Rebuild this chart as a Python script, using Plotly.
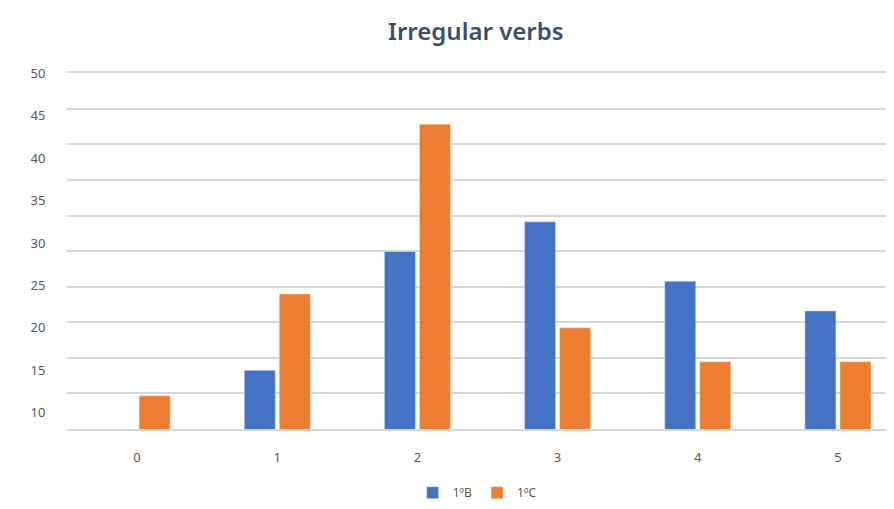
import plotly.graph_objects as go

categories = ["0", "1", "2", "3", "4", "5"]
series_b = [None, 15, 29, 32.5, 25.5, 22]
series_c = [12, 24, 44, 20, 16, 16]
y_tick_vals = [10, 15, 20, 25, 30, 35, 40, 45, 50]
names = ["1ºB", "1ºC"]

fig = go.Figure()
fig.add_trace(go.Scatter(x=categories, y=[None] * len(categories), yaxis="y2",
                         showlegend=False, hoverinfo="skip"))
fig.add_trace(go.Bar(x=categories, y=series_b, name=names[0], marker_color="#4472C4"))
fig.add_trace(go.Bar(x=categories, y=series_c, name=names[1], marker_color="#ED7D31"))

fig.update_layout(
    width=886, height=501,
    margin=dict(l=59, r=0, t=65, b=80, autoexpand=False),
    paper_bgcolor="white", plot_bgcolor="white",
    barmode="group", bargap=0.5, bargroupgap=0.114,
    title=dict(text="Irregular verbs", x=0.528, xanchor="center", y=0.952, yanchor="middle",
               font=dict(family="Noto Sans", size=24, color="#3B4E72", weight=600)),
    showlegend=True,
    legend=dict(orientation="h", x=0.418, xanchor="left", y=-0.179, yanchor="middle",
                font=dict(family="Noto Sans", size=12, color="#595959"),
                itemwidth=30, traceorder="normal"),
    font=dict(family="Noto Sans", color="#595959"),
    xaxis=dict(type="category", range=[-0.5, 5.4], showgrid=False, zeroline=False,
               showline=True, mirror=True, linecolor="#D6D6D6", linewidth=2,
               ticks="outside", ticklen=15, tickcolor="rgba(0,0,0,0)",
               automargin=False, tickfont=dict(size=13, color="#595959")),
    yaxis=dict(range=[8.08, 50.04], tickvals=y_tick_vals, showgrid=False, zeroline=False,
               ticks="outside", ticklen=18, tickcolor="rgba(0,0,0,0)", automargin=False,
               tickfont=dict(size=13, color="#595959")),
    yaxis2=dict(range=[0, 50.03], dtick=5, overlaying="y", side="left", showticklabels=False,
                showgrid=True, gridcolor="#D6D6D6", gridwidth=2, zeroline=True,
                zerolinecolor="#D0D0D0", zerolinewidth=2, ticks="", automargin=False),
)

fig.write_html("out.html")
